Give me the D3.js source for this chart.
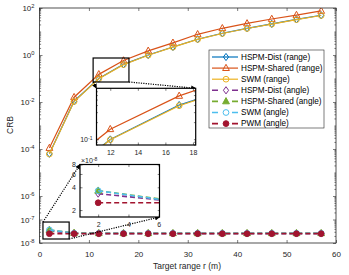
<!DOCTYPE html>
<html>
<head>
<meta charset="utf-8">
<script src="https://cdn.jsdelivr.net/npm/d3@7"></script>
<style>
  body { margin: 0; background: #fff; }
  svg { font-family: "Liberation Sans", Arial, Helvetica, sans-serif; }
  .tick line { stroke: #262626; stroke-width: 0.6px; }
  .tick text { fill: #262626; }
</style>
</head>
<body>
<svg id="chart" width="349" height="275"></svg>
<script>
// data
var rangeR = [2, 7, 12, 17, 22, 27, 32, 37, 42, 47, 52, 57];
var hspmDistRange   = [6.3e-5, 0.0108, 0.099, 0.40, 1.0, 2.2, 4.7, 8.4, 13.7, 21, 33, 49];
var hspmSharedRange = [1.1e-4, 0.016, 0.15, 0.58, 1.5, 3.3, 7.6, 13.7, 22, 34, 50, 75];
var swmRange        = [6.1e-5, 0.0105, 0.098, 0.39, 0.98, 2.15, 4.6, 8.2, 13.4, 20.5, 32, 48];
var hspmDistAngle   = [3.3e-8, 2.6e-8, 2.55e-8, 2.55e-8, 2.55e-8, 2.55e-8, 2.55e-8, 2.55e-8, 2.55e-8, 2.55e-8, 2.55e-8, 2.55e-8];
var hspmSharedAngle = [3.6e-8, 2.65e-8, 2.6e-8, 2.6e-8, 2.6e-8, 2.6e-8, 2.6e-8, 2.6e-8, 2.6e-8, 2.6e-8, 2.6e-8, 2.6e-8];
var swmAngle        = [3.6e-8, 2.6e-8, 2.58e-8, 2.58e-8, 2.58e-8, 2.58e-8, 2.58e-8, 2.58e-8, 2.58e-8, 2.58e-8, 2.58e-8, 2.58e-8];
var pwmAngle        = [2.5e-8, 2.5e-8, 2.5e-8, 2.5e-8, 2.5e-8, 2.5e-8, 2.5e-8, 2.5e-8, 2.5e-8, 2.5e-8, 2.5e-8, 2.5e-8];

var xTicks = [0, 10, 20, 30, 40, 50, 60];
var yTickExp = [-8, -7, -6, -4, -2, 0, 2];
var inset1XTicks = [12, 14, 16, 18];
var inset2XTicks = [2, 4, 6];
var inset2YTicks = [2, 4, 6, 8];

var series = [
  {name: 'HSPM-Dist (range)',   v: hspmDistRange,   c: '#0072BD', m: 'diamond',  fill: false, dash: false},
  {name: 'HSPM-Shared (range)', v: hspmSharedRange, c: '#D95319', m: 'triangle', fill: false, dash: false},
  {name: 'SWM (range)',         v: swmRange,        c: '#EDB120', m: 'circle',   fill: false, dash: false},
  {name: 'HSPM-Dist (angle)',   v: hspmDistAngle,   c: '#7E2F8E', m: 'diamond',  fill: false, dash: true},
  {name: 'HSPM-Shared (angle)', v: hspmSharedAngle, c: '#77AC30', m: 'triangle', fill: true,  dash: true},
  {name: 'SWM (angle)',         v: swmAngle,        c: '#4DBEEE', m: 'circle',   fill: false, dash: true},
  {name: 'PWM (angle)',         v: pwmAngle,        c: '#A2142F', m: 'circle',   fill: true,  dash: true}
];

var svg = d3.select('#chart');
var ink = '#262626';

function markerPath(type) {
  if (type === 'diamond') return 'M0,-3.6L2.6,0L0,3.6L-2.6,0Z';
  if (type === 'triangle') return 'M0,-3.8L3.4,2.4L-3.4,2.4Z';
  return d3.symbol(d3.symbolCircle, 26)();
}

function drawSeries(g, x, y, list, clipId) {
  var line = d3.line().x(function(d) { return x(d[0]); }).y(function(d) { return y(d[1]); });
  var lg = g.append('g').attr('clip-path', clipId ? 'url(#' + clipId + ')' : null);
  list.forEach(function(s) {
    var pts = rangeR.map(function(r, i) { return [r, s.v[i]]; });
    lg.append('path')
      .attr('d', line(pts))
      .attr('fill', 'none')
      .attr('stroke', s.c)
      .attr('stroke-width', s.dash ? 1.6 : 1.2)
      .attr('stroke-dasharray', s.dash ? '5,3' : null);
    lg.selectAll(null).data(pts).enter().append('path')
      .attr('d', markerPath(s.m))
      .attr('transform', function(d) { return 'translate(' + x(d[0]) + ',' + y(d[1]) + ')'; })
      .attr('fill', s.fill ? s.c : 'none')
      .attr('stroke', s.c)
      .attr('stroke-width', 1);
  });
}

function supLabel(sel, base, exp, size) {
  sel.text(null);
  sel.append('tspan').text(base);
  sel.append('tspan').attr('font-size', (size * 0.72) + 'px').attr('dy', '-0.45em').text(exp);
}

function logMinors(lo, hi, skip) {
  var out = [];
  for (var e = lo; e < hi; e++) {
    for (var k = 1; k < 10; k++) {
      var v = k * Math.pow(10, e);
      if (skip.indexOf(v) < 0) out.push(v);
    }
  }
  return out;
}

// ---------- main axes ----------
var x = d3.scaleLinear().domain([0, 60]).range([39.5, 336]);
var y = d3.scaleLog().domain([1e-8, 1e2]).range([243, 8]);

svg.append('defs').append('clipPath').attr('id', 'mainClip')
  .append('rect').attr('x', 39.5).attr('y', 8).attr('width', 296.5).attr('height', 235);

drawSeries(svg, x, y, series, 'mainClip');

var majorY = yTickExp.map(function(e) { return Math.pow(10, e); });
var minorY = logMinors(-8, 2, majorY);

svg.append('g').attr('transform', 'translate(0,243)')
  .call(d3.axisBottom(x).tickValues(xTicks).tickFormat(d3.format('d')).tickSizeInner(-3).tickSizeOuter(0).tickPadding(8))
  .call(function(g) { g.select('.domain').remove(); g.selectAll('text').attr('font-size', '8px').attr('font-family', null); });
svg.append('g').attr('transform', 'translate(0,8)')
  .call(d3.axisTop(x).tickValues(xTicks).tickSizeInner(-3).tickSizeOuter(0).tickFormat(''))
  .call(function(g) { g.select('.domain').remove(); });

svg.append('g').attr('transform', 'translate(39.5,0)')
  .call(d3.axisLeft(y).tickValues(majorY).tickSizeInner(-3).tickSizeOuter(0).tickPadding(5))
  .call(function(g) {
    g.select('.domain').remove();
    g.selectAll('text').attr('font-size', '8px').attr('font-family', null)
      .each(function(d) { supLabel(d3.select(this), '10', String(Math.round(Math.log10(d))), 8); });
  });
svg.append('g').attr('transform', 'translate(39.5,0)')
  .call(d3.axisLeft(y).tickValues(minorY).tickSizeInner(-1.6).tickSizeOuter(0).tickFormat(''))
  .call(function(g) { g.select('.domain').remove(); });
svg.append('g').attr('transform', 'translate(336,0)')
  .call(d3.axisRight(y).tickValues(majorY).tickSizeInner(-3).tickSizeOuter(0).tickFormat(''))
  .call(function(g) { g.select('.domain').remove(); });
svg.append('g').attr('transform', 'translate(336,0)')
  .call(d3.axisRight(y).tickValues(minorY).tickSizeInner(-1.6).tickSizeOuter(0).tickFormat(''))
  .call(function(g) { g.select('.domain').remove(); });

svg.append('rect').attr('x', 39.5).attr('y', 8).attr('width', 296.5).attr('height', 235)
  .attr('fill', 'none').attr('stroke', ink).attr('stroke-width', 0.8);

svg.append('text').attr('x', 187).attr('y', 269).attr('text-anchor', 'middle')
  .attr('font-size', '8.5px').attr('fill', ink).text('Target range r (m)');
svg.append('text').attr('transform', 'translate(13,125) rotate(-90)').attr('text-anchor', 'middle')
  .attr('font-size', '8.5px').attr('fill', ink).text('CRB');

// ---------- zoom boxes and arrows ----------
var defs = svg.select('defs');
defs.append('marker').attr('id', 'arr').attr('viewBox', '0 0 10 10')
  .attr('refX', 9).attr('refY', 5).attr('markerWidth', 5).attr('markerHeight', 5)
  .attr('orient', 'auto').attr('markerUnits', 'userSpaceOnUse')
  .append('path').attr('d', 'M0,0L10,5L0,10Z').attr('fill', '#000');

function zoomBox(x0, x1, y0, y1, links) {
  svg.append('rect')
    .attr('x', x(x0)).attr('y', y(y1))
    .attr('width', x(x1) - x(x0)).attr('height', y(y0) - y(y1))
    .attr('fill', 'none').attr('stroke', '#000').attr('stroke-width', 1.2);
  links.forEach(function(l) {
    svg.append('line')
      .attr('x1', x(l[0])).attr('y1', y(l[1])).attr('x2', l[2]).attr('y2', l[3])
      .attr('stroke', '#000').attr('stroke-width', 1.2).attr('stroke-dasharray', '1.2,1.2')
      .attr('marker-end', 'url(#arr)');
  });
}

// inset 1 (range curves)
var i1 = {left: 96.5, right: 195.7, top: 88.3, bottom: 145};
var x1 = d3.scaleLinear().domain([11, 18.2]).range([i1.left, i1.right]);
var y1 = d3.scaleLog().domain([0.079, 0.79]).range([i1.bottom, i1.top]);
zoomBox(10.85, 18.1, 0.071, 0.745, [[10.85, 0.071, i1.left, i1.top], [18.1, 0.071, i1.right, i1.top]]);

// inset 2 (angle curves)
var i2 = {left: 80, right: 159.5, top: 164.5, bottom: 217};
var x2 = d3.scaleLinear().domain([0.8, 6.05]).range([i2.left, i2.right]);
var y2 = d3.scaleLog().domain([1.62e-8, 8e-8]).range([i2.bottom, i2.top]);
zoomBox(0.7, 6, 1.48e-8, 7.8e-8, [[0.7, 7.8e-8, i2.left, i2.top], [6, 1.48e-8, i2.right, i2.bottom]]);

function inset(box, xs, ys, list, id, xt, yt, ymin, yLabelFn) {
  var g = svg.append('g');
  g.append('rect').attr('x', box.left).attr('y', box.top)
    .attr('width', box.right - box.left).attr('height', box.bottom - box.top).attr('fill', '#fff');
  defs.append('clipPath').attr('id', id).append('rect').attr('x', box.left).attr('y', box.top)
    .attr('width', box.right - box.left).attr('height', box.bottom - box.top);
  drawSeries(g, xs, ys, list, id);
  g.append('g').attr('transform', 'translate(0,' + box.bottom + ')')
    .call(d3.axisBottom(xs).tickValues(xt).tickFormat(d3.format('d')).tickSizeInner(-2.5).tickSizeOuter(0).tickPadding(5))
    .call(function(a) { a.select('.domain').remove(); a.selectAll('text').attr('font-size', '7px').attr('font-family', null); });
  g.append('g').attr('transform', 'translate(0,' + box.top + ')')
    .call(d3.axisTop(xs).tickValues(xt).tickSizeInner(-2.5).tickSizeOuter(0).tickFormat(''))
    .call(function(a) { a.select('.domain').remove(); });
  g.append('g').attr('transform', 'translate(' + box.left + ',0)')
    .call(d3.axisLeft(ys).tickValues(yt).tickSizeInner(-2.5).tickSizeOuter(0).tickPadding(4))
    .call(function(a) { a.select('.domain').remove(); a.selectAll('text').attr('font-size', '7px').attr('font-family', null).each(yLabelFn); });
  g.append('g').attr('transform', 'translate(' + box.left + ',0)')
    .call(d3.axisLeft(ys).tickValues(ymin).tickSizeInner(-1.4).tickSizeOuter(0).tickFormat(''))
    .call(function(a) { a.select('.domain').remove(); });
  g.append('g').attr('transform', 'translate(' + box.right + ',0)')
    .call(d3.axisRight(ys).tickValues(yt.concat(ymin)).tickSizeInner(-1.8).tickSizeOuter(0).tickFormat(''))
    .call(function(a) { a.select('.domain').remove(); });
  g.append('rect').attr('x', box.left).attr('y', box.top)
    .attr('width', box.right - box.left).attr('height', box.bottom - box.top)
    .attr('fill', 'none').attr('stroke', '#000').attr('stroke-width', 1.2);
  return g;
}

inset(i1, x1, y1, series.slice(0, 3), 'clip1', inset1XTicks, [0.1],
  [0.08, 0.09, 0.2, 0.3, 0.4, 0.5, 0.6, 0.7],
  function() { supLabel(d3.select(this), '10', '-1', 7); });

var g2 = inset(i2, x2, y2, series.slice(3), 'clip2', inset2XTicks,
  inset2YTicks.map(function(v) { return v * 1e-8; }), [],
  function(d) { d3.select(this).text(Math.round(d * 1e8)); });
var ex = g2.append('text').attr('x', i2.left + 1).attr('y', i2.top - 1.5)
  .attr('font-size', '7px').attr('fill', ink);
supLabel(ex, '\u00d710', '-8', 7);

// ---------- legend ----------
var lg = svg.append('g').attr('transform', 'translate(209,50)');
lg.append('rect').attr('width', 115).attr('height', 78)
  .attr('fill', '#fff').attr('stroke', ink).attr('stroke-width', 0.6);
var row = lg.selectAll('g.row').data(series).enter().append('g')
  .attr('class', 'row')
  .attr('transform', function(d, i) { return 'translate(0,' + (7 + i * 11.1) + ')'; });
row.append('line')
  .attr('x1', 3).attr('x2', 29).attr('y1', 0).attr('y2', 0)
  .attr('stroke', function(d) { return d.c; })
  .attr('stroke-width', function(d) { return d.dash ? 1.6 : 1.2; })
  .attr('stroke-dasharray', function(d) { return d.dash ? '6,14' : null; });
row.append('path')
  .attr('d', function(d) { return markerPath(d.m); })
  .attr('transform', 'translate(17,0)')
  .attr('fill', function(d) { return d.fill ? d.c : 'none'; })
  .attr('stroke', function(d) { return d.c; });
row.append('text').attr('x', 32).attr('y', 0).attr('dy', '0.33em')
  .attr('font-size', '8.2px').attr('fill', '#000')
  .text(function(d) { return d.name; });
</script>
</body>
</html>
